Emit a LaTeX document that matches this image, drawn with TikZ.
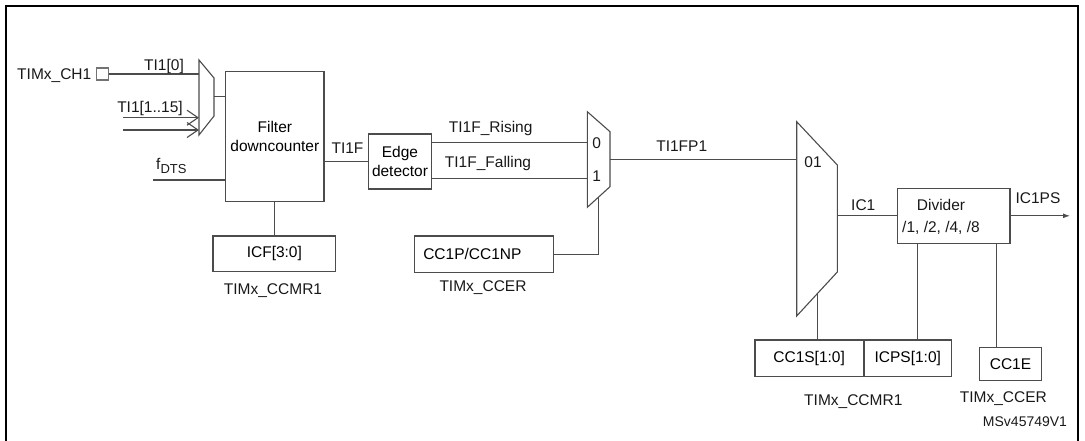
\documentclass[tikz,border=0pt]{standalone}
\usepackage{fontspec}
\setmainfont{Liberation Sans}
\usetikzlibrary{arrows.meta}

\tikzset{
  wire/.style={draw=black!70, line width=1.1pt},
  regbox/.style={draw=black!70, line width=1.1pt, inner sep=0pt, font=\fontsize{15.5}{18.5}\selectfont},
  lbl/.style={inner sep=0pt, font=\fontsize{15.5}{18.5}\selectfont, text=black!90},
  mux/.style={draw=black!70, line width=1.1pt, line join=miter},
}

\begin{document}
\begin{tikzpicture}[x=1pt,y=-1pt]
    \useasboundingbox (0,0) rectangle (1085,441);

    % Frame
    \draw[line width=2pt, line join=miter] (6,441) -- (6,6) -- (1078,6) -- (1078,441);

    % Input pin and input mux
    \node[regbox, minimum size=12pt, draw=black!55] (pad) at (102.5,74) {};
    \node[lbl, anchor=east] (ch1) at (91.5,76) {TIMx\_CH1};
    \coordinate (m1in0) at (199,74);
    \coordinate (m1in1) at (199,117.7);
    \coordinate (m1in2) at (199,130);
    \coordinate (m1out) at (214,96.7);
    \coordinate (ti1a) at (123,117.7);
    \coordinate (ti1b) at (123,130);
    \coordinate (fdts) at (153,180);
    \draw[mux] (199,60) -- (214,78) -- (214,116) -- (199,135) -- cycle;

    % Filter and edge detector
    \node[regbox, minimum width=98.3pt, minimum height=130pt, align=center] (filter) at (274.85,136.7) {Filter\\downcounter};
    \node[regbox, minimum width=122.7pt, minimum height=35.7pt] (icf) at (274.35,253.85) {ICF[3:0]};
    \node[regbox, minimum width=63.4pt, minimum height=55pt, align=center] (edge) at (400,161.5) {Edge\\detector};

    % Polarity mux
    \coordinate (m2in0) at (587.3,142.7);
    \coordinate (m2in1) at (587.3,178.3);
    \coordinate (m2out) at (610,159.3);
    \coordinate (m2sel) at (598.3,197.3);
    \draw[mux] (587.3,111.7) -- (610,131.7) -- (610,186.7) -- (587.3,207.3) -- cycle;
    \node[regbox, minimum height=36.3pt, text width=121pt, inner xsep=9pt, align=left] (cc1p) at (483.8,254.15) {CC1P/CC1NP};

    % Selection mux
    \coordinate (m3in) at (796.7,159.3);
    \coordinate (m3out) at (837.3,215.8);
    \coordinate (m3sel) at (817.7,293.2);
    \draw[mux] (796.7,121.7) -- (837.3,165) -- (837.3,272) -- (796.7,316) -- cycle;

    % Prescaler and control bits
    \node[regbox, minimum width=112.3pt, minimum height=55pt] (divider) at (953.85,215.8) {};
    \node[lbl, align=center, font=\fontsize{15.5}{22.3}\selectfont] (divtxt) at (941,217.2) {Divider\\/1, /2, /4, /8};
    \coordinate (ic1ps) at (1070,215.8);
    \node[regbox, minimum width=108.3pt, minimum height=36.7pt] (cc1s) at (809.15,358.35) {CC1S[1:0]};
    \node[regbox, minimum width=86.7pt, minimum height=36.7pt, anchor=west] (icps) at (cc1s.east) {ICPS[1:0]};
    \node[regbox, minimum width=62.4pt, minimum height=33.4pt] (cc1e) at (1010.5,364) {CC1E};

    % Draw connections
    \draw[wire] (pad) -- (m1in0);
    \draw[wire, -{Straight Barb[length=11pt,width=15pt]}] (ti1a) -- (m1in1);
    \draw[wire, -{Straight Barb[length=11pt,width=15pt]}] (ti1b) -- (m1in2);
    \draw[wire] (m1out) -- (m1out -| filter.west);
    \draw[wire] (fdts) -- (fdts -| filter.west);
    \draw[wire] (filter.south) -- (filter.south |- icf.north);
    \draw[wire] (edge.west -| filter.east) -- (edge.west);
    \draw[wire] (m2in0 -| edge.east) -- (m2in0);
    \draw[wire] (m2in1 -| edge.east) -- (m2in1);
    \draw[wire] (m2sel) |- (cc1p.east);
    \draw[wire] (m2out) -- (m3in);
    \draw[wire] (m3out) -- (divider.west);
    \draw[wire, -{Latex[length=7pt,width=5pt]}] (divider.east) -- (ic1ps);
    \draw[wire] (m3sel) -- (m3sel |- cc1s.north);
    \draw[wire] ([xshift=20pt]divider.south west) -- ([xshift=20pt]divider.south west |- icps.north);
    \draw[wire] ([xshift=-14pt]divider.south east) -- ([xshift=-14pt]divider.south east |- cc1e.north);

    % Labels
    \node[lbl] (ti10) at (164,66) {TI1[0]};
    \node[lbl] (ti1n) at (150,108) {TI1[1..15]};
    \node[lbl, anchor=base west] (fdtslbl) at (156,170) {f\raisebox{-4pt}{\fontsize{13}{13}\selectfont DTS}};
    \node[lbl] (icfreg) at (273,290.7) {TIMx\_CCMR1};
    \node[lbl] (ti1f) at (347.5,148) {TI1F};
    \node[lbl] (rising) at (490.7,128.3) {TI1F\_Rising};
    \node[lbl] (falling) at (488,163.3) {TI1F\_Falling};
    \node[lbl] (in0) at (596.7,143.3) {0};
    \node[lbl] (in1) at (596.7,176) {1};
    \node[lbl] (cc1preg) at (483,288) {TIMx\_CCER};
    \node[lbl] (ti1fp1) at (681.7,146) {TI1FP1};
    \node[lbl] (in01) at (813,161.7) {01};
    \node[lbl] (ic1) at (863.3,205) {IC1};
    \node[lbl] (ic1pslbl) at (1038,198.3) {IC1PS};
    \node[lbl] (ccmrreg) at (853.3,401.7) {TIMx\_CCMR1};
    \node[lbl] (ccerreg) at (1003.3,398.3) {TIMx\_CCER};
    \node[lbl, font=\fontsize{14}{16}\selectfont] (ref) at (1025,421.7) {MSv45749V1};
\end{tikzpicture}
\end{document}
